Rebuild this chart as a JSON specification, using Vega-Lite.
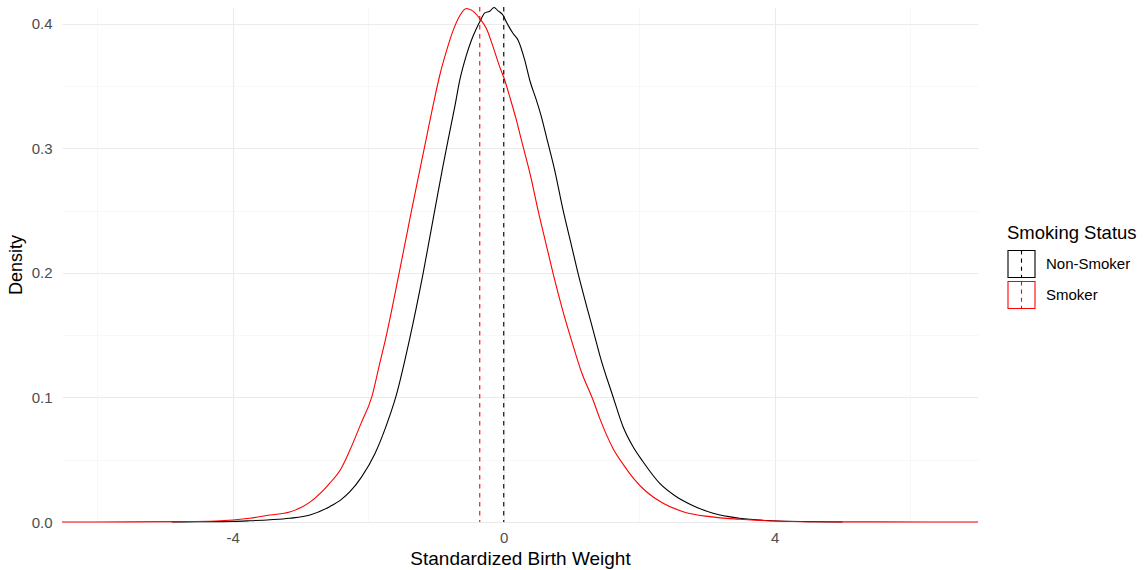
{
  "$schema": "https://vega.github.io/schema/vega-lite/v6.json",
  "width": 916,
  "height": 515,
  "autosize": {"type": "none"},
  "padding": {"left": 62, "top": 7, "right": 167, "bottom": 48},
  "background": "white",
  "config": {
    "view": {"stroke": null},
    "font": "Liberation Sans",
    "axis": {
      "domain": false,
      "ticks": false,
      "labelFont": "Liberation Sans",
      "labelFontSize": 15,
      "labelColor": "#4D4D4D",
      "titleFont": "Liberation Sans",
      "titleFontSize": 18,
      "titleFontWeight": "normal",
      "titleColor": "#000000"
    }
  },
  "datasets": {
    "density": [
      {"status": "Non-Smoker", "x": -4.9, "y": 0.0},
      {"status": "Non-Smoker", "x": -4.5, "y": 0.0002},
      {"status": "Non-Smoker", "x": -4.0, "y": 0.0005},
      {"status": "Non-Smoker", "x": -3.75, "y": 0.001},
      {"status": "Non-Smoker", "x": -3.45, "y": 0.0018},
      {"status": "Non-Smoker", "x": -3.16, "y": 0.003},
      {"status": "Non-Smoker", "x": -2.86, "y": 0.0056},
      {"status": "Non-Smoker", "x": -2.57, "y": 0.0123},
      {"status": "Non-Smoker", "x": -2.4, "y": 0.018},
      {"status": "Non-Smoker", "x": -2.27, "y": 0.0243},
      {"status": "Non-Smoker", "x": -2.1, "y": 0.036},
      {"status": "Non-Smoker", "x": -1.9, "y": 0.055},
      {"status": "Non-Smoker", "x": -1.75, "y": 0.075},
      {"status": "Non-Smoker", "x": -1.59, "y": 0.101},
      {"status": "Non-Smoker", "x": -1.387, "y": 0.1474},
      {"status": "Non-Smoker", "x": -1.19, "y": 0.1996},
      {"status": "Non-Smoker", "x": -1.018, "y": 0.2504},
      {"status": "Non-Smoker", "x": -0.9, "y": 0.285},
      {"status": "Non-Smoker", "x": -0.822, "y": 0.3066},
      {"status": "Non-Smoker", "x": -0.723, "y": 0.3333},
      {"status": "Non-Smoker", "x": -0.649, "y": 0.3547},
      {"status": "Non-Smoker", "x": -0.551, "y": 0.3748},
      {"status": "Non-Smoker", "x": -0.477, "y": 0.3868},
      {"status": "Non-Smoker", "x": -0.403, "y": 0.3962},
      {"status": "Non-Smoker", "x": -0.329, "y": 0.4043},
      {"status": "Non-Smoker", "x": -0.28, "y": 0.4088},
      {"status": "Non-Smoker", "x": -0.207, "y": 0.4101},
      {"status": "Non-Smoker", "x": -0.143, "y": 0.4131},
      {"status": "Non-Smoker", "x": -0.084, "y": 0.4104},
      {"status": "Non-Smoker", "x": -0.01, "y": 0.4069},
      {"status": "Non-Smoker", "x": 0.039, "y": 0.4015},
      {"status": "Non-Smoker", "x": 0.138, "y": 0.3922},
      {"status": "Non-Smoker", "x": 0.212, "y": 0.3868},
      {"status": "Non-Smoker", "x": 0.31, "y": 0.3708},
      {"status": "Non-Smoker", "x": 0.384, "y": 0.3547},
      {"status": "Non-Smoker", "x": 0.482, "y": 0.3387},
      {"status": "Non-Smoker", "x": 0.556, "y": 0.3253},
      {"status": "Non-Smoker", "x": 0.63, "y": 0.3092},
      {"status": "Non-Smoker", "x": 0.75, "y": 0.283},
      {"status": "Non-Smoker", "x": 0.876, "y": 0.2504},
      {"status": "Non-Smoker", "x": 1.0, "y": 0.222},
      {"status": "Non-Smoker", "x": 1.097, "y": 0.1996},
      {"status": "Non-Smoker", "x": 1.23, "y": 0.172},
      {"status": "Non-Smoker", "x": 1.358, "y": 0.1461},
      {"status": "Non-Smoker", "x": 1.417, "y": 0.134},
      {"status": "Non-Smoker", "x": 1.613, "y": 0.1006},
      {"status": "Non-Smoker", "x": 1.761, "y": 0.0765},
      {"status": "Non-Smoker", "x": 1.909, "y": 0.0604},
      {"status": "Non-Smoker", "x": 2.056, "y": 0.0484},
      {"status": "Non-Smoker", "x": 2.303, "y": 0.031},
      {"status": "Non-Smoker", "x": 2.549, "y": 0.0203},
      {"status": "Non-Smoker", "x": 2.795, "y": 0.0131},
      {"status": "Non-Smoker", "x": 3.09, "y": 0.007},
      {"status": "Non-Smoker", "x": 3.48, "y": 0.003},
      {"status": "Non-Smoker", "x": 3.97, "y": 0.001},
      {"status": "Non-Smoker", "x": 4.5, "y": 0.0003},
      {"status": "Non-Smoker", "x": 5.0, "y": 0.0},
      {"status": "Smoker", "x": -6.52, "y": 0.0},
      {"status": "Smoker", "x": -5.5, "y": 0.0001},
      {"status": "Smoker", "x": -4.8, "y": 0.0003},
      {"status": "Smoker", "x": -4.24, "y": 0.0008},
      {"status": "Smoker", "x": -3.75, "y": 0.003},
      {"status": "Smoker", "x": -3.45, "y": 0.0056},
      {"status": "Smoker", "x": -3.16, "y": 0.008},
      {"status": "Smoker", "x": -2.86, "y": 0.016},
      {"status": "Smoker", "x": -2.57, "y": 0.031},
      {"status": "Smoker", "x": -2.4, "y": 0.043},
      {"status": "Smoker", "x": -2.27, "y": 0.0578},
      {"status": "Smoker", "x": -2.1, "y": 0.08},
      {"status": "Smoker", "x": -1.95, "y": 0.1},
      {"status": "Smoker", "x": -1.83, "y": 0.1274},
      {"status": "Smoker", "x": -1.742, "y": 0.1474},
      {"status": "Smoker", "x": -1.545, "y": 0.1996},
      {"status": "Smoker", "x": -1.36, "y": 0.2504},
      {"status": "Smoker", "x": -1.141, "y": 0.3085},
      {"status": "Smoker", "x": -1.043, "y": 0.3345},
      {"status": "Smoker", "x": -0.945, "y": 0.3585},
      {"status": "Smoker", "x": -0.846, "y": 0.378},
      {"status": "Smoker", "x": -0.748, "y": 0.3945},
      {"status": "Smoker", "x": -0.649, "y": 0.4065},
      {"status": "Smoker", "x": -0.551, "y": 0.4123},
      {"status": "Smoker", "x": -0.477, "y": 0.411},
      {"status": "Smoker", "x": -0.354, "y": 0.4043},
      {"status": "Smoker", "x": -0.256, "y": 0.3962},
      {"status": "Smoker", "x": -0.157, "y": 0.3815},
      {"status": "Smoker", "x": -0.059, "y": 0.3654},
      {"status": "Smoker", "x": 0.015, "y": 0.3547},
      {"status": "Smoker", "x": 0.089, "y": 0.3413},
      {"status": "Smoker", "x": 0.187, "y": 0.3226},
      {"status": "Smoker", "x": 0.261, "y": 0.3066},
      {"status": "Smoker", "x": 0.4, "y": 0.277},
      {"status": "Smoker", "x": 0.506, "y": 0.2504},
      {"status": "Smoker", "x": 0.63, "y": 0.222},
      {"status": "Smoker", "x": 0.728, "y": 0.1996},
      {"status": "Smoker", "x": 0.86, "y": 0.172},
      {"status": "Smoker", "x": 0.999, "y": 0.1461},
      {"status": "Smoker", "x": 1.15, "y": 0.12},
      {"status": "Smoker", "x": 1.318, "y": 0.0979},
      {"status": "Smoker", "x": 1.417, "y": 0.0832},
      {"status": "Smoker", "x": 1.613, "y": 0.0591},
      {"status": "Smoker", "x": 1.786, "y": 0.0445},
      {"status": "Smoker", "x": 1.909, "y": 0.0355},
      {"status": "Smoker", "x": 2.106, "y": 0.0243},
      {"status": "Smoker", "x": 2.352, "y": 0.015},
      {"status": "Smoker", "x": 2.647, "y": 0.0083},
      {"status": "Smoker", "x": 3.04, "y": 0.0043},
      {"status": "Smoker", "x": 3.48, "y": 0.0022},
      {"status": "Smoker", "x": 3.97, "y": 0.0008},
      {"status": "Smoker", "x": 4.6, "y": 0.0002},
      {"status": "Smoker", "x": 5.5, "y": 0.0001},
      {"status": "Smoker", "x": 7.0, "y": 0.0}
    ],
    "means": [
      {"status": "Non-Smoker", "mean": 0.0},
      {"status": "Smoker", "mean": -0.354}
    ]
  },
  "layer": [
    {
      "data": {"name": "density"},
      "mark": {"type": "line", "strokeWidth": 1.1, "interpolate": "monotone"},
      "encoding": {
        "x": {
          "field": "x",
          "type": "quantitative",
          "title": "Standardized Birth Weight",
          "scale": {"domain": [-6.52, 7.0], "nice": false, "zero": false},
          "axis": {
            "values": [-6, -4, -2, 0, 2, 4, 6],
            "labelExpr": "datum.value % 4 === 0 ? toString(datum.value) : ''",
            "labelPadding": 8,
            "titlePadding": 4,
            "titleFontSize": 19,
            "gridColor": {"condition": {"test": "datum.value % 4 === 0", "value": "#EBEBEB"}, "value": "#F4F4F4"},
            "gridWidth": {"condition": {"test": "datum.value % 4 === 0", "value": 1.1}, "value": 0.6}
          }
        },
        "y": {
          "field": "y",
          "type": "quantitative",
          "title": "Density",
          "scale": {"domain": [0, 0.4135], "nice": false, "zero": true},
          "axis": {
            "values": [0, 0.05, 0.1, 0.15, 0.2, 0.25, 0.3, 0.35, 0.4],
            "labelExpr": "abs(datum.value * 10 - round(datum.value * 10)) < 0.001 ? format(datum.value, '.1f') : ''",
            "labelPadding": 10,
            "titlePadding": 6,
            "gridColor": {"condition": {"test": "abs(datum.value * 10 - round(datum.value * 10)) < 0.001", "value": "#EBEBEB"}, "value": "#F4F4F4"},
            "gridWidth": {"condition": {"test": "abs(datum.value * 10 - round(datum.value * 10)) < 0.001", "value": 1.1}, "value": 0.6}
          }
        },
        "color": {
          "field": "status",
          "type": "nominal",
          "scale": {"domain": ["Non-Smoker", "Smoker"], "range": ["#000000", "#FF0000"]},
          "legend": {
            "title": "Smoking Status",
            "orient": "none",
            "legendX": 945,
            "legendY": 217,
            "padding": 0,
            "titleFont": "Liberation Sans",
            "titleFontSize": 18.5,
            "titleFontWeight": "normal",
            "titleColor": "#000000",
            "titlePadding": 7,
            "labelFont": "Liberation Sans",
            "labelFontSize": 15,
            "labelColor": "#000000",
            "labelOffset": 10,
            "rowPadding": -8,
            "symbolType": "M-1,-1H1V1H-1Z M0,-1V-0.7 M0,-0.4V-0.1 M0,0.2V0.5 M0,0.8V1",
            "symbolSize": 729,
            "symbolStrokeWidth": 1.1,
            "symbolFillColor": "transparent"
          }
        }
      }
    },
    {
      "data": {"name": "means"},
      "mark": {"type": "rule", "strokeWidth": 1.1, "strokeDash": [4.5, 4.5]},
      "encoding": {
        "x": {"field": "mean", "type": "quantitative"},
        "color": {"field": "status", "type": "nominal"}
      }
    }
  ]
}
